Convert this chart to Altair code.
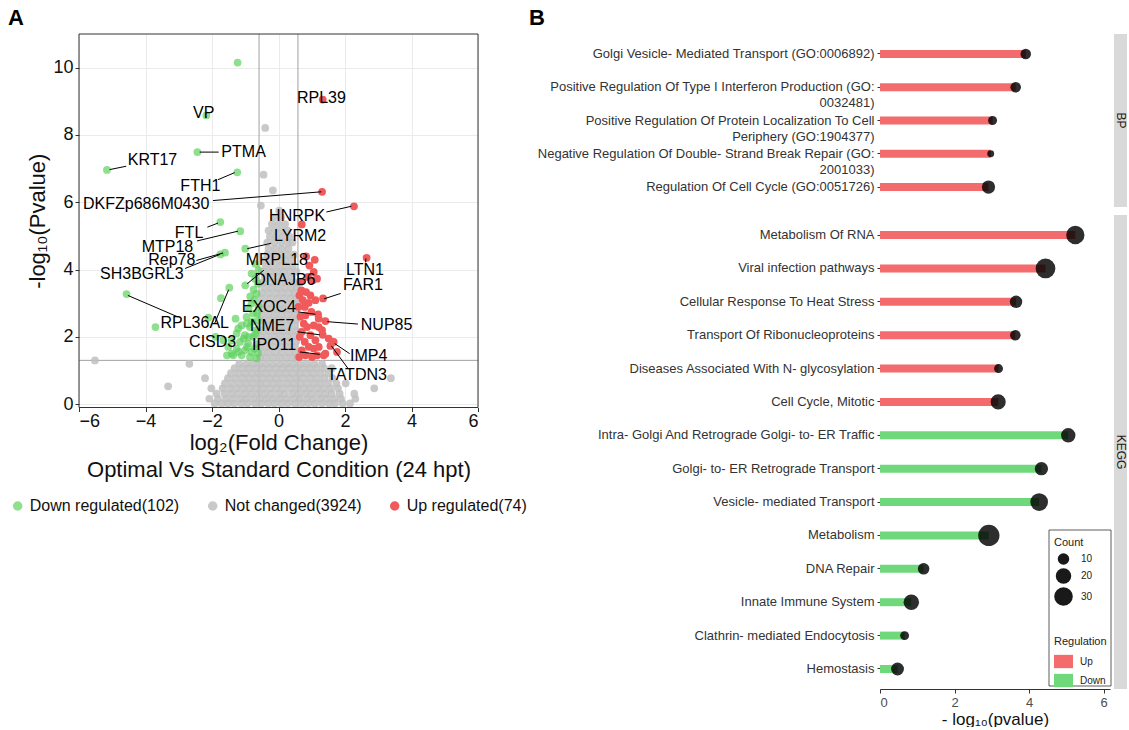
import altair as alt
import pandas as pd

FONT = "Liberation Sans"
GREEN = "#5ED15E"
GREY = "#C0C0C0"
RED = "#F05A5A"
BAR_RED = "#F46B6E"
BAR_GREEN = "#6ED87B"

# ---------------- Panel A : volcano ----------------
status_names = ["Down regulated(102)", "Not changed(3924)", "Up regulated(74)"]
status_opacity = [0.7, 1.0, 0.68]
fc_cut = [-0.585, 0.585]
p_cut = [1.301]
x_limits = [-6, 6]
y_limits = [-0.1, 11]

# not-changed genes (estimated from the dense grey cloud), rows of (y, [x...])
grey_rows = [
    (0.02, [-1.92, -1.71, -1.52, -1.33, -1.12, -0.93, -0.71, -0.52, -0.31, -0.12, 0.09, 0.28, 0.49, 0.71, 0.9, 1.1, 1.31, 1.52, 1.7, 1.93, 2.15]),
    (0.16, [-2.08, -1.82, -1.58, -1.37, -1.16, -0.97, -0.76, -0.56, -0.36, -0.16, 0.04, 0.24, 0.45, 0.64, 0.86, 1.04, 1.26, 1.46, 1.67, 1.88, 2.31]),
    (0.31, [-1.86, -1.62, -1.41, -1.22, -1.01, -0.81, -0.61, -0.41, -0.21, 0.01, 0.19, 0.41, 0.6, 0.81, 1.0, 1.21, 1.41, 1.6, 1.84, 2.28]),
    (0.47, [-2.02, -1.68, -1.46, -1.26, -1.06, -0.86, -0.66, -0.46, -0.26, -0.06, 0.14, 0.36, 0.56, 0.76, 0.95, 1.16, 1.36, 1.57, 1.79, 2.88]),
    (0.62, [-1.61, -1.39, -1.17, -0.97, -0.77, -0.56, -0.36, -0.16, 0.04, 0.26, 0.46, 0.66, 0.86, 1.06, 1.27, 1.49, 1.74, 2.02]),
    (0.77, [-2.21, -1.52, -1.3, -1.08, -0.88, -0.67, -0.47, -0.27, -0.07, 0.14, 0.34, 0.54, 0.74, 0.96, 1.16, 1.38, 1.62, 3.38]),
    (0.92, [-1.43, -1.21, -1.0, -0.8, -0.6, -0.39, -0.19, 0.01, 0.22, 0.42, 0.63, 0.84, 1.05, 1.27, 1.5]),
    (1.07, [-1.32, -1.1, -0.9, -0.69, -0.49, -0.29, -0.09, 0.12, 0.31, 0.52, 0.72, 0.93, 1.14, 1.37, 1.6]),
    (1.2, [-2.68, -1.18, -0.96, -0.76, -0.56, -0.36, -0.16, 0.05, 0.25, 0.45, 0.66, 0.87, 1.08, 1.31]),
    (1.3, [-5.52]),
    (0.53, [-3.32]),
    (1.38, [-0.55, -0.36, -0.16, 0.04, 0.24, 0.44, 0.56]),
    (1.54, [-0.5, -0.3, -0.1, 0.1, 0.31, 0.5]),
    (1.7, [-0.56, -0.35, -0.15, 0.06, 0.26, 0.46]),
    (1.86, [-0.49, -0.29, -0.09, 0.12, 0.32, 0.53]),
    (2.02, [-0.54, -0.34, -0.13, 0.07, 0.27, 0.47]),
    (2.18, [-0.48, -0.28, -0.08, 0.13, 0.33, 0.54]),
    (2.34, [-0.53, -0.33, -0.12, 0.08, 0.28, 0.48]),
    (2.5, [-0.47, -0.27, -0.07, 0.14, 0.34, 0.53]),
    (2.66, [-0.52, -0.31, -0.11, 0.09, 0.29, 0.49]),
    (2.82, [-0.46, -0.26, -0.05, 0.15, 0.35, 0.54]),
    (2.98, [-0.5, -0.3, -0.1, 0.1, 0.3, 0.5]),
    (3.14, [-0.45, -0.24, -0.04, 0.16, 0.36, 0.53]),
    (3.3, [-0.49, -0.29, -0.08, 0.12, 0.32, 0.49]),
    (3.46, [-0.43, -0.23, -0.03, 0.18, 0.38, 0.55]),
    (3.62, [-0.47, -0.26, -0.06, 0.14, 0.34, 0.5]),
    (3.78, [-0.41, -0.21, 0.0, 0.2, 0.4]),
    (3.94, [-0.44, -0.24, -0.04, 0.16, 0.36, 0.54]),
    (4.1, [-0.38, -0.18, 0.03, 0.23, 0.43]),
    (4.27, [-0.41, -0.2, 0.0, 0.2, 0.4]),
    (4.44, [-0.34, -0.14, 0.06, 0.26, 0.46]),
    (4.62, [-0.3, -0.1, 0.1, 0.3]),
    (4.8, [-0.34, -0.13, 0.07, 0.27, 0.42]),
    (4.98, [-0.26, -0.06, 0.14, 0.33]),
    (5.16, [-0.3, -0.1, 0.1, 0.27]),
    (5.35, [-0.2, 0.0, 0.2]),
    (5.55, [-0.14, 0.08]),
    (5.75, [0.02]),
    (5.9, [-0.53]),
    (6.35, [-0.17]),
    (6.82, [-0.45]),
    (8.21, [-0.40]),
]
grey_x = [x for y, xs in grey_rows for x in xs]
grey_y = [y for y, xs in grey_rows for x in xs]

down_x = [-1.23, -2.17, -2.44, -5.16, -1.24, -1.75, -1.15, -1.61, -1.75, -1.0,
          -1.0, -4.57, -3.70, -1.48, -1.73, -1.29, -2.11, -1.89, -1.21, -0.70,
          -0.60, -0.81, -0.62, -0.66, -0.81, -0.60, -0.76, -0.96, -0.62, -1.11,
          -0.86, -0.66, -1.26, -1.01, -0.76, -1.41, -1.16, -0.91, -0.66, -1.51,
          -1.26, -1.01, -0.81, -0.62, -1.36, -1.11, -0.86, -0.66, -1.66, -1.41,
          -0.72, -0.70, -0.90, -0.75, -0.80, -0.95, -1.05, -0.70, -0.72, -0.90,
          -1.20, -0.64, -0.85, -1.55, -0.95]
down_y = [10.15, 8.58, 7.49, 6.96, 6.89, 5.41, 5.14, 4.50, 4.45, 4.62,
          3.53, 3.27, 2.29, 3.46, 3.15, 2.54, 2.57, 2.00, 2.25, 4.17,
          3.98, 3.88, 3.58, 3.28, 2.99, 2.89, 2.69, 2.59, 2.49, 2.34,
          2.29, 2.20, 2.10, 2.05, 2.00, 1.90, 1.85, 1.80, 1.78, 1.70,
          1.65, 1.60, 1.55, 1.52, 1.45, 1.45, 1.40, 1.36, 1.90, 1.50,
          3.10, 3.72, 2.85, 3.40, 2.45, 2.40, 1.95, 2.10, 1.65, 2.00,
          1.55, 2.70, 3.20, 1.45, 1.70]

up_x = [1.33, 1.31, 2.27, 0.70, 2.65, 1.34, 1.19, 1.41, 1.33, 1.36, 1.66, 1.56,
        0.83, 1.09, 0.93, 1.06, 1.16, 1.03, 0.69, 0.83, 0.96, 0.73, 0.91, 1.11,
        0.79, 0.81, 0.99, 1.21, 0.76, 0.86, 1.06, 1.21, 0.70, 0.96, 1.11, 0.79,
        0.91, 0.70, 1.06, 1.21, 0.81, 1.01, 1.16, 1.41, 1.51, 1.76, 1.31, 0.63,
        0.66, 0.60, 0.89, 0.64, 0.62, 0.66]
up_y = [9.05, 6.31, 5.88, 5.34, 4.35, 3.14, 2.67, 2.47, 2.06, 1.45, 1.85, 1.73,
        4.39, 4.29, 4.12, 3.93, 3.73, 3.68, 3.38, 3.33, 3.23, 3.09, 3.01, 3.09,
        2.89, 2.64, 2.74, 2.54, 2.39, 2.29, 2.34, 2.29, 2.15, 2.05, 1.90, 1.85,
        1.70, 1.60, 1.65, 1.70, 1.45, 1.40, 1.45, 1.50, 1.95, 1.55, 2.20, 3.23,
        3.63, 2.89, 3.78, 2.00, 1.40, 2.60]

gene_names = ["VP", "RPL39", "PTMA", "KRT17", "FTH1", "DKFZp686M0430", "HNRPK", "LYRM2",
              "FTL", "MTP18", "MRPL18", "Rep78", "SH3BGRL3", "LTN1", "DNAJB6", "FAR1",
              "EXOC4", "RPL36AL", "NUP85", "NME7", "CISD3", "IPO11", "IMP4", "TATDN3"]
gene_label_x = [-2.25, 1.29, -1.05, -3.79, -2.35, -3.98, 0.56, 0.65,
                -2.69, -3.34, -0.05, -3.21, -4.11, 2.60, 0.19, 2.54,
                -0.29, -2.52, 3.25, -0.19, -1.98, -0.13, 2.71, 2.36]
gene_label_y = [8.66, 9.10, 7.49, 7.26, 6.48, 5.96, 5.58, 5.01,
                5.10, 4.67, 4.27, 4.27, 3.88, 4.00, 3.68, 3.55,
                2.89, 2.40, 2.34, 2.31, 1.86, 1.76, 1.42, 0.88]

# leader segments (label side -> point side)
seg_x1 = [-2.37, -5.08, -1.82, -1.97, 1.44, -0.22, -0.44, -2.14, -2.45, -2.47, -2.81,
          2.62, 1.87, 0.59, 2.39, 0.57, 0.64, 2.14, 2.09, -4.53, -1.92]
seg_y1 = [7.49, 6.97, 6.67, 6.05, 5.71, 4.78, 3.98, 5.26, 4.85, 4.27, 4.03,
          4.21, 3.29, 2.74, 2.38, 2.15, 1.55, 1.50, 1.06, 3.23, 2.40]
seg_x2 = [-1.80, -4.58, -1.32, 1.29, 2.19, -0.94, -0.94, -1.82, -1.22, -1.67, -1.76,
          2.63, 1.37, 1.11, 1.47, 1.24, 1.24, 1.69, 1.59, -3.02, -1.50]
seg_y2 = [7.49, 7.07, 6.88, 6.31, 5.88, 4.62, 3.58, 5.38, 5.14, 4.49, 4.45,
          4.33, 3.13, 2.67, 2.45, 2.06, 1.48, 1.80, 1.73, 2.59, 3.40]

# ---------------- Panel B : enrichment ----------------
bp_terms = [
    "Golgi Vesicle- Mediated Transport (GO:0006892)",
    "Positive Regulation Of Type I Interferon Production (GO:|0032481)",
    "Positive Regulation Of Protein Localization To Cell|Periphery (GO:1904377)",
    "Negative Regulation Of Double- Strand Break Repair (GO:|2001033)",
    "Regulation Of Cell Cycle (GO:0051726)",
]
bp_values = [3.91, 3.64, 3.02, 2.97, 2.91]
bp_counts = [8, 8, 5, 2, 14]
bp_reg = ["Up", "Up", "Up", "Up", "Up"]

kegg_terms = [
    "Metabolism Of RNA", "Viral infection pathways", "Cellular Response To Heat Stress",
    "Transport Of Ribonucleoproteins", "Diseases Associated With N- glycosylation",
    "Cell Cycle, Mitotic", "Intra- Golgi And Retrograde Golgi- to- ER Traffic",
    "Golgi- to- ER Retrograde Transport", "Vesicle- mediated Transport", "Metabolism",
    "DNA Repair", "Innate Immune System", "Clathrin- mediated Endocytosis", "Hemostasis",
]
kegg_values = [5.24, 4.44, 3.65, 3.63, 3.18, 3.17, 5.05, 4.33, 4.27, 2.92, 1.17, 0.84, 0.66, 0.47]
kegg_counts = [29, 34, 12, 8, 5, 19, 17, 14, 27, 40, 10, 20, 5, 13]
kegg_reg = ["Up", "Up", "Up", "Up", "Up", "Up", "Down", "Down", "Down", "Down", "Down", "Down", "Down", "Down"]

# ================= build panel A =================
pts = pd.DataFrame({
    "x": grey_x + down_x + up_x,
    "y": grey_y + down_y + up_y,
    "status": [status_names[1]] * len(grey_x) + [status_names[0]] * len(down_x) + [status_names[2]] * len(up_x),
})
labdf = pd.DataFrame({"gene": gene_names, "x": gene_label_x, "y": gene_label_y})
segdf = pd.DataFrame({"x": seg_x1, "y": seg_y1, "x2": seg_x2, "y2": seg_y2})
framedf = pd.DataFrame({"x": [x_limits[0]], "x2": [x_limits[1]], "y": [y_limits[0]], "y2": [y_limits[1]]})

xA = alt.Scale(domain=x_limits, nice=False, zero=False)
yA = alt.Scale(domain=y_limits, nice=False, zero=False)
axXA = alt.Axis(values=[-6, -4, -2, 0, 2, 4, 6],
                title=["log₂(Fold Change)", "Optimal Vs Standard Condition (24 hpt)"],
                grid=True, gridColor="#EBEBEB", domain=False, tickColor="#333333", tickSize=4,
                labelFontSize=18, labelColor="#111111", labelPadding=1,
                titleFontSize=22, titleFontWeight="normal", titleColor="#111111",
                titlePadding=2, titleLineHeight=27)
axYA = alt.Axis(values=[0, 2, 4, 6, 8, 10], title="-log₁₀(Pvalue)",
                grid=True, gridColor="#EBEBEB", domain=False, tickColor="#333333", tickSize=4,
                labelFontSize=18, labelColor="#111111", labelPadding=2,
                titleFontSize=22, titleFontWeight="normal", titleColor="#111111", titlePadding=3)

XA = lambda f: alt.X(f, type="quantitative", scale=xA, axis=axXA)
YA = lambda f: alt.Y(f, type="quantitative", scale=yA, axis=axYA)

vrule = alt.Chart(pd.DataFrame({"x": fc_cut})).mark_rule(color="#A0A0A0", strokeWidth=1).encode(x=XA("x"))
hrule = alt.Chart(pd.DataFrame({"y": p_cut})).mark_rule(color="#A0A0A0", strokeWidth=1).encode(y=YA("y"))

legA = alt.Legend(title=None, orient="none", legendX=-69.3, legendY=464, direction="horizontal",
                  labelFontSize=16, labelColor="#111111", symbolSize=90, symbolType="circle",
                  symbolOpacity=0.7, symbolStrokeWidth=0, labelOffset=4, columnPadding=25, padding=0)
points = alt.Chart(pts).mark_circle(size=60).encode(
    x=XA("x"), y=YA("y"),
    color=alt.Color("status:N", scale=alt.Scale(domain=status_names, range=[GREEN, GREY, RED]), legend=legA),
    opacity=alt.Opacity("status:N", scale=alt.Scale(domain=status_names, range=status_opacity), legend=None),
)
segs = alt.Chart(segdf).mark_rule(color="black", strokeWidth=1).encode(
    x=XA("x"), y=YA("y"), x2=alt.X2("x2"), y2=alt.Y2("y2"))
labels = alt.Chart(labdf).mark_text(fontSize=16, color="black").encode(
    x=XA("x"), y=YA("y"), text="gene:N")
frame = alt.Chart(framedf).mark_rect(fill="white", fillOpacity=0, stroke="#333333", strokeWidth=1).encode(
    x=XA("x"), x2=alt.X2("x2"), y=YA("y"), y2=alt.Y2("y2"))

panelA = alt.layer(vrule, hrule, points, segs, labels, frame).properties(
    width=399, height=373.5,
    title=alt.TitleParams("A", anchor="start", frame="group", dx=-71, fontSize=22,
                          fontWeight="bold", color="black", offset=4),
)

# ================= build panel B =================
xB = alt.Scale(domain=[0, 6.17], nice=False, zero=False)
sizeB = alt.Scale(domain=[0, 40], range=[26.5, 452.5])
colB = alt.Scale(domain=["Up", "Down"], range=[BAR_RED, BAR_GREEN])
axXB = alt.Axis(values=[0, 2, 4, 6], title="- log₁₀(pvalue)", grid=False, domainColor="#333333",
                tickColor="#333333", tickSize=4, labelFontSize=13, labelColor="#4D4D4D",
                labelPadding=3, titleFontSize=17, titleFontWeight="normal", titleColor="#111111",
                titlePadding=2)
axYB = alt.Axis(title=None, labelExpr="split(datum.label, '|')", labelFontSize=13,
                labelColor="#333333", labelLimit=600, labelLineHeight=16, tickSize=3,
                tickColor="#333333", domain=False, labelPadding=3, grid=False)

legColor = alt.Legend(title="Regulation", orient="none", legendX=174, legendY=421,
                      symbolType="M-1,-0.7H1V0.7H-1Z", symbolSize=361, symbolStrokeWidth=0,
                      labelFontSize=10, titleFontSize=11, titleFontWeight="normal",
                      titleColor="#222222", labelColor="#222222", titlePadding=5,
                      rowPadding=2, labelOffset=7, padding=0)
legSize = alt.Legend(title="Count", orient="none", legendX=174, legendY=322, values=[10, 20, 30],
                     symbolFillColor="#1A1A1A", symbolStrokeWidth=0, symbolOpacity=0.9,
                     labelFontSize=10, titleFontSize=11, titleFontWeight="normal",
                     titleColor="#222222", labelColor="#222222", titlePadding=5,
                     rowPadding=3, labelOffset=8, padding=0)


def b_panel(terms, values, counts, regs, height, strip_label, bottom):
    df = pd.DataFrame({"term": terms, "value": values, "count": counts, "reg": regs,
                       "base": [0] * len(terms)})
    yenc = alt.Y("term:N", sort=terms, scale=alt.Scale(paddingInner=0, paddingOuter=0.1), axis=axYB)
    xenc = alt.X("value:Q", scale=xB, axis=axXB if bottom else None)
    bars = alt.Chart(df).mark_bar(size=8).encode(
        x=xenc, x2=alt.X2("base"), y=yenc,
        color=alt.Color("reg:N", scale=colB, legend=legColor if bottom else None))
    dots = alt.Chart(df).mark_circle(color="black", opacity=0.82).encode(
        x=xenc, y=yenc,
        size=alt.Size("count:Q", scale=sizeB, legend=legSize if bottom else None))
    sdf = pd.DataFrame({"panel": [strip_label]})
    strip = alt.Chart(sdf).mark_rect(color="#D9D9D9").encode(
        x=alt.value(234), x2=alt.value(247), y=alt.value(0), y2=alt.value(height))
    stext = alt.Chart(sdf).mark_text(angle=90, fontSize=12, color="#1A1A1A").encode(
        x=alt.value(240.5), y=alt.value(height / 2), text="panel:N")
    layers = [bars, dots, strip, stext]
    if bottom:
        box = alt.Chart(pd.DataFrame({"k": [0]})).mark_rect(
            fill="white", stroke="#333333", strokeWidth=0.8).encode(
            x=alt.value(169), x2=alt.value(231), y=alt.value(315), y2=alt.value(471))
        layers = [box] + layers
    ch = alt.layer(*layers).properties(width=230, height=height)
    return ch


B1 = b_panel(bp_terms, bp_values, bp_counts, bp_reg, 173, "BP", False).properties(
    title=alt.TitleParams("B", anchor="start", frame="group", dx=-351, fontSize=22,
                          fontWeight="bold", color="black", offset=4))
B2 = b_panel(kegg_terms, kegg_values, kegg_counts, kegg_reg, 474, "KEGG", True)

panelB = alt.vconcat(B1, B2, spacing=8, bounds="flush").resolve_scale(
    y="independent", color="independent", size="independent")

chart = alt.hconcat(panelA, panelB, spacing=402, bounds="flush").resolve_scale(
    x="independent", y="independent", color="independent", size="independent",
    opacity="independent"
).properties(
    padding={"left": 8, "top": 6, "right": 0, "bottom": 0}
).configure(font=FONT).configure_view(stroke=None)

chart.save("out.html", embed_options={"renderer": "svg", "actions": False})
